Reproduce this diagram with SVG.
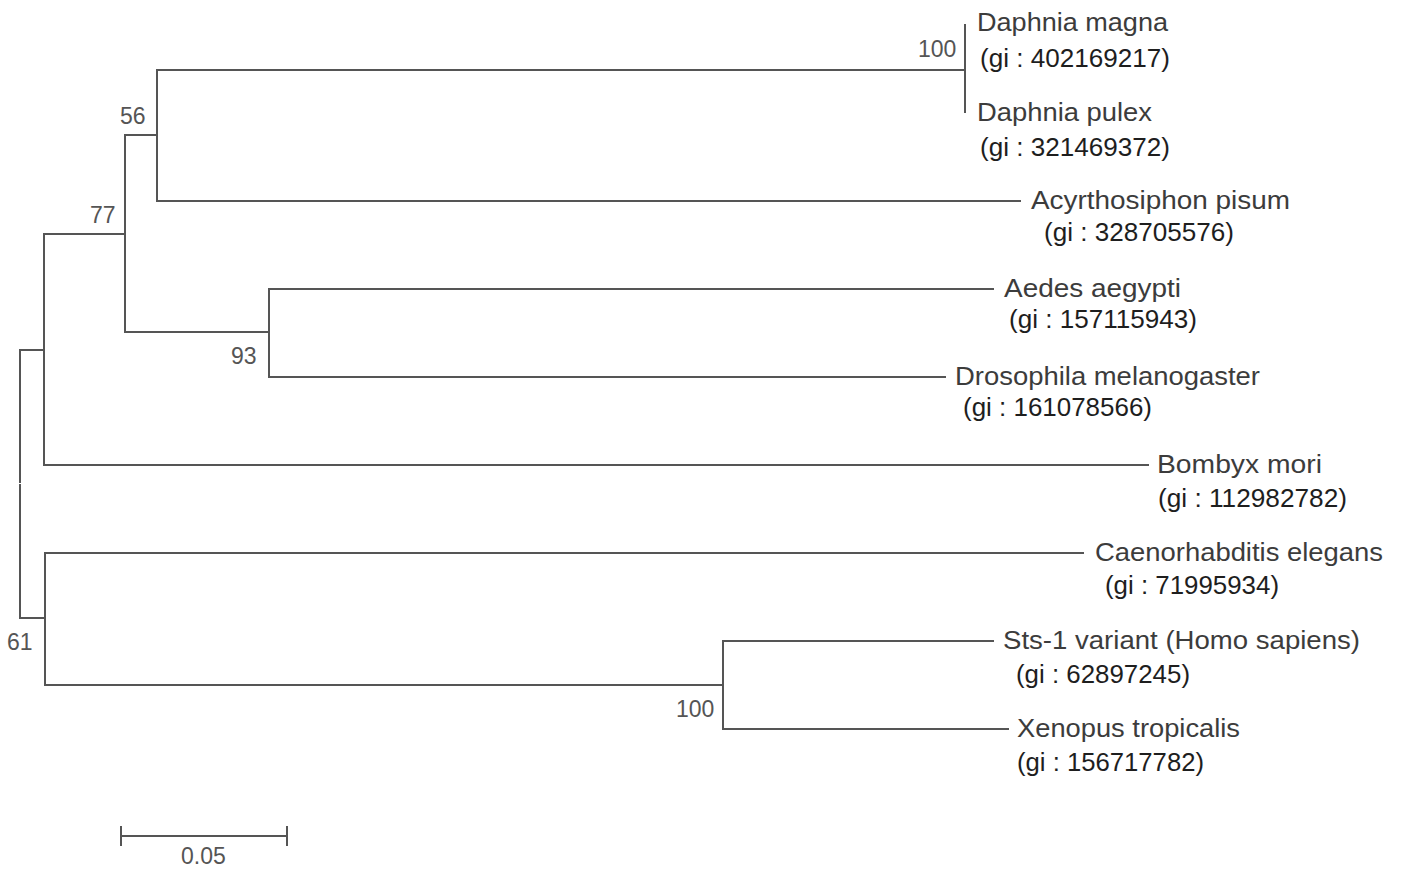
<svg xmlns="http://www.w3.org/2000/svg" width="1401" height="869" viewBox="0 0 1401 869">
<style>
.br{stroke:#555;stroke-width:2;fill:none;stroke-linecap:square}
.nm{font-family:"Liberation Sans",Arial,sans-serif;font-size:25px;fill:#3c3c3c}
.gi{font-family:"Liberation Sans",Arial,sans-serif;font-size:25px;fill:#1e1e1e}
.bs{font-family:"Liberation Sans",Arial,sans-serif;font-size:23px;fill:#555}
</style>
<rect width="1401" height="869" fill="#fff"/>
<g id="connectors">
<path class="br" d="M965 25V112 M157 70H965 M157 70V201H1020 M125 135H157 M125 135V332H269 M269 289V377 M269 289H993 M269 377H945 M44 234H125 M44 234V465H1148 M20 350H44 M20 350V482 M20 485V618H45 M45 553V685 M45 553H1083 M45 685H723 M723 641V729 M723 641H993 M723 729H1008"/>
</g>
<g id="bootstrap">
<text class="bs" x="918" y="57">100</text>
<text class="bs" x="120" y="124">56</text>
<text class="bs" x="90" y="223">77</text>
<text class="bs" x="231" y="364">93</text>
<text class="bs" x="7" y="650">61</text>
<text class="bs" x="676" y="717">100</text>
</g>
<g id="leaf-daphnia-magna"><text class="nm" x="977" y="31" textLength="191" lengthAdjust="spacingAndGlyphs">Daphnia magna</text><text class="gi" x="980" y="67" textLength="190" lengthAdjust="spacingAndGlyphs">(gi : 402169217)</text></g>
<g id="leaf-daphnia-pulex"><text class="nm" x="977" y="121" textLength="175" lengthAdjust="spacingAndGlyphs">Daphnia pulex</text><text class="gi" x="980" y="156" textLength="190" lengthAdjust="spacingAndGlyphs">(gi : 321469372)</text></g>
<g id="leaf-acyrthosiphon"><text class="nm" x="1031" y="209" textLength="259" lengthAdjust="spacingAndGlyphs">Acyrthosiphon  pisum</text><text class="gi" x="1044" y="241" textLength="190" lengthAdjust="spacingAndGlyphs">(gi : 328705576)</text></g>
<g id="leaf-aedes"><text class="nm" x="1004" y="297" textLength="177" lengthAdjust="spacingAndGlyphs">Aedes aegypti</text><text class="gi" x="1009" y="328" textLength="188" lengthAdjust="spacingAndGlyphs">(gi : 157115943)</text></g>
<g id="leaf-drosophila"><text class="nm" x="955" y="385" textLength="305" lengthAdjust="spacingAndGlyphs">Drosophila melanogaster</text><text class="gi" x="963" y="416" textLength="189" lengthAdjust="spacingAndGlyphs">(gi : 161078566)</text></g>
<g id="leaf-bombyx"><text class="nm" x="1157" y="473" textLength="165" lengthAdjust="spacingAndGlyphs">Bombyx mori</text><text class="gi" x="1158" y="507" textLength="189" lengthAdjust="spacingAndGlyphs">(gi : 112982782)</text></g>
<g id="leaf-caenorhabditis"><text class="nm" x="1095" y="561" textLength="288" lengthAdjust="spacingAndGlyphs">Caenorhabditis elegans</text><text class="gi" x="1105" y="594" textLength="174" lengthAdjust="spacingAndGlyphs">(gi : 71995934)</text></g>
<g id="leaf-sts1"><text class="nm" x="1003" y="649" textLength="357" lengthAdjust="spacingAndGlyphs">Sts-1 variant (Homo sapiens)</text><text class="gi" x="1016" y="683" textLength="174" lengthAdjust="spacingAndGlyphs">(gi : 62897245)</text></g>
<g id="leaf-xenopus"><text class="nm" x="1017" y="737" textLength="223" lengthAdjust="spacingAndGlyphs">Xenopus tropicalis</text><text class="gi" x="1017" y="771" textLength="187" lengthAdjust="spacingAndGlyphs">(gi : 156717782)</text></g>
<g id="scale-bar">
<path class="br" d="M121 836H287 M121 827V845 M287 827V845"/>
<text class="bs" x="181" y="864">0.05</text>
</g>
</svg>
